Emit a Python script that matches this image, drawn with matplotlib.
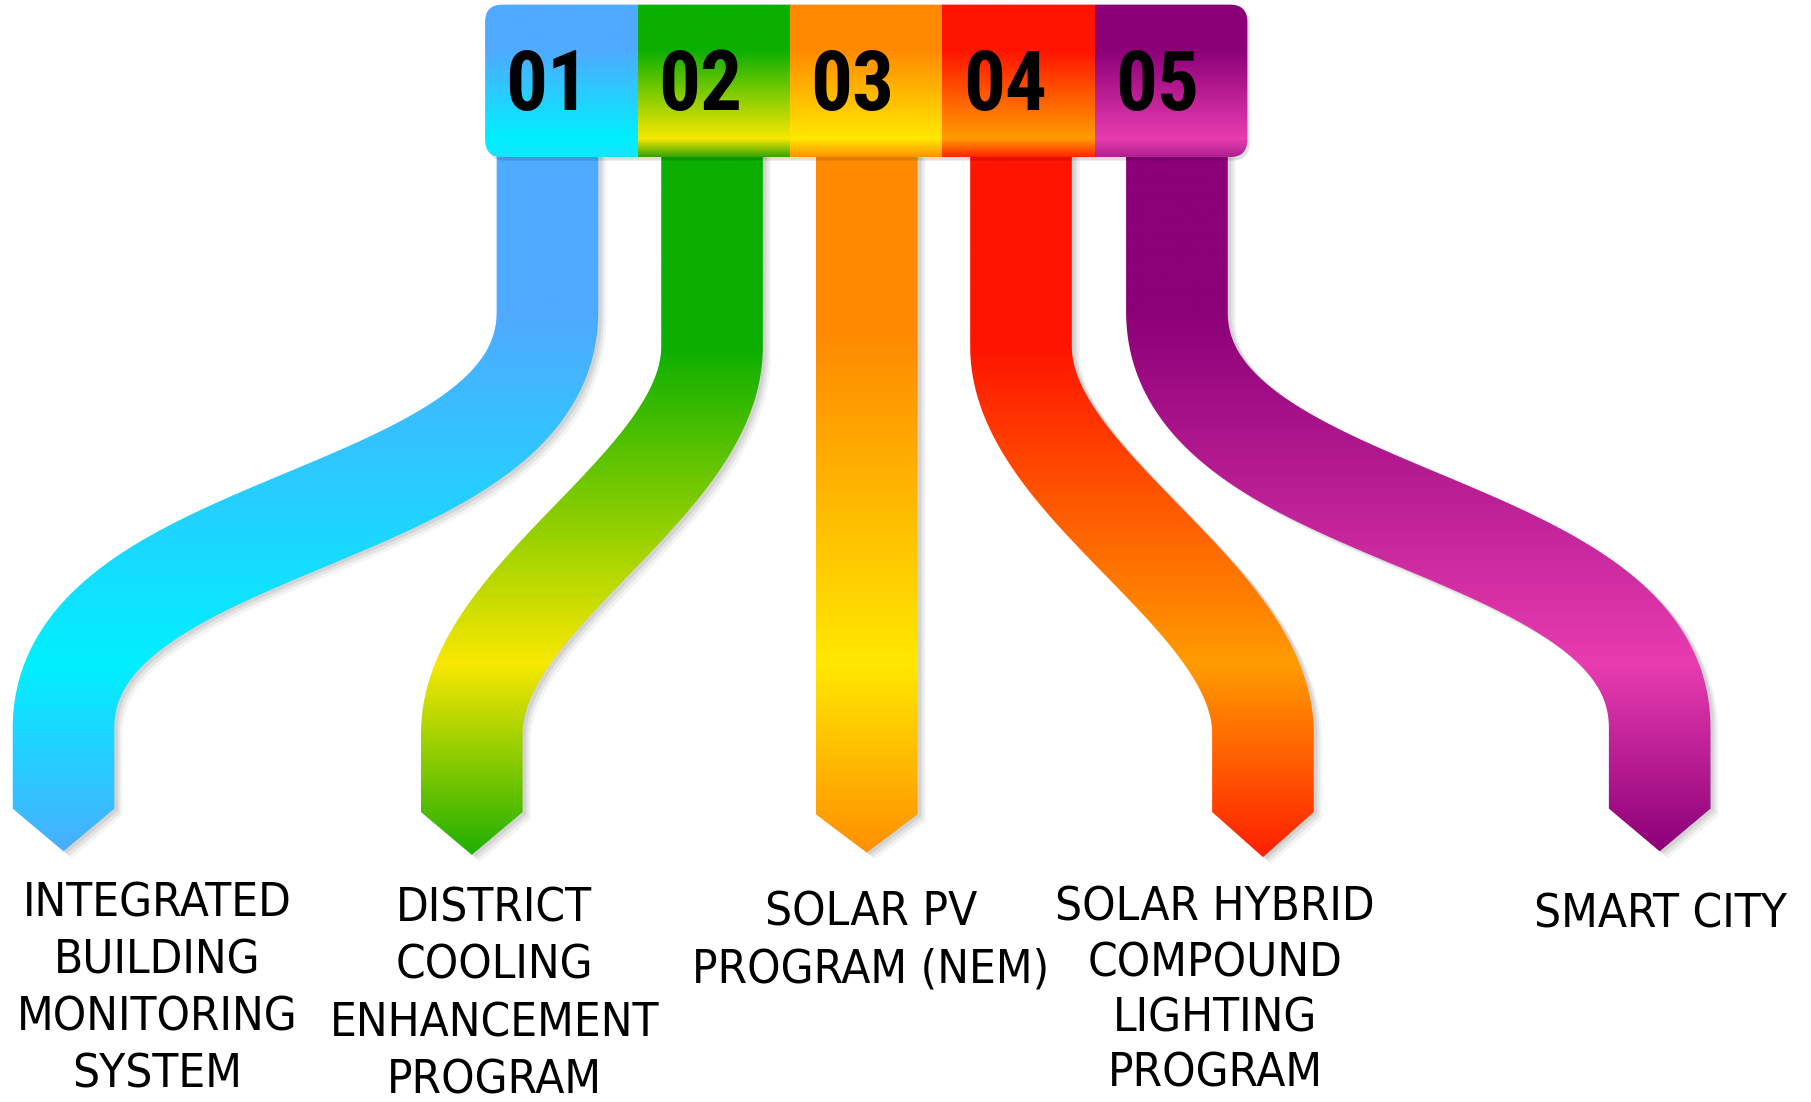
import os
import numpy as np
import matplotlib
matplotlib.use("Agg")
import matplotlib.pyplot as plt
import matplotlib.font_manager as fm
from matplotlib.patches import Polygon, FancyBboxPatch
from matplotlib.colors import to_rgb

# ---- data ----
numbers = ["01", "02", "03", "04", "05"]
labels = [
    "INTEGRATED\nBUILDING\nMONITORING\nSYSTEM",
    "DISTRICT\nCOOLING\nENHANCEMENT\nPROGRAM",
    "SOLAR PV\nPROGRAM (NEM)",
    "SOLAR HYBRID\nCOMPOUND\nLIGHTING\nPROGRAM",
    "SMART CITY",
]
dark_colors = ["#50aaff", "#0aaf00", "#ff8a00", "#ff1400", "#8c0078"]
light_colors = ["#00f0ff", "#f8e800", "#ffe800", "#ff9c00", "#e83cb0"]
band_colors = ["#18e4ff", "#36a400", "#ff9400", "#ff2400", "#b0208f"]
tip_colors = ["#4aaeff", "#20b000", "#ff9000", "#ff2000", "#8c0078"]

# ---- fonts ----
font_files = {}
for f in fm.findSystemFonts() + [e.fname for e in fm.fontManager.ttflist]:
    font_files.setdefault(os.path.basename(f).lower(), f)


def pick_font(cands, **fallback):
    for c in cands:
        if c.lower() in font_files:
            return fm.FontProperties(fname=font_files[c.lower()])
    return fm.FontProperties(**fallback)


num_font = pick_font(["NotoSans-ExtraCondensedBlack.ttf", "NotoSans-CondensedBlack.ttf",
                      "NotoSans-ExtraCondensedExtraBold.ttf", "RobotoCondensed-Black.ttf",
                      "RobotoCondensed-Bold.ttf", "LiberationSansNarrow-Bold.ttf",
                      "DejaVuSansCondensed-Bold.ttf"], family="DejaVu Sans", weight="bold")
lab_font = pick_font(["DejaVuSansCondensed.ttf", "NotoSans-SemiCondensed.ttf",
                      "NotoSans-Condensed.ttf", "RobotoCondensed-Regular.ttf",
                      "LiberationSansNarrow-Regular.ttf"], family="DejaVu Sans")

W, H = 1568, 954          # working coordinates (reference shown size)
PT = 1811 / W * 0.72      # working px -> points

fig = plt.figure(figsize=(18.11, 11.02), dpi=100)
ax = fig.add_axes([0, 0, 1, 1])
ax.axis("off")


def grad_img(stops, y0, y1, n=300):
    ys = np.linspace(y0, y1, n)
    sy = [s[0] for s in stops]
    cols = np.array([to_rgb(s[1]) for s in stops])
    img = np.stack([np.interp(ys, sy, cols[:, k]) for k in range(3)], axis=-1)
    return np.repeat(img[:, None, :], 2, axis=1)


def ribbon_outline(xt, xb, yc0, yc1, yend, tip, k, hw=44, ytop=128):
    if xt == xb:
        pts = np.array([[xt, y] for y in np.linspace(ytop, yend, 20)])
    else:
        top = np.array([[xt, y] for y in np.linspace(ytop, yc0, 12)[:-1]])
        t = np.linspace(0, 1, 120)[:, None]
        P0, P1 = np.array([xt, yc0]), np.array([xt, yc0 + k])
        P2, P3 = np.array([xb, yc1 - k]), np.array([xb, yc1])
        bez = (1 - t) ** 3 * P0 + 3 * (1 - t) ** 2 * t * P1 + 3 * (1 - t) * t ** 2 * P2 + t ** 3 * P3
        bot = np.array([[xb, y] for y in np.linspace(yc1, yend, 8)[1:]])
        pts = np.vstack([top, bez, bot])
    tx = np.gradient(pts[:, 0])
    ty = np.gradient(pts[:, 1])
    ln = np.hypot(tx, ty)
    nrm = np.stack([-ty / ln, tx / ln], axis=1)
    a = pts + hw * nrm
    b = pts - hw * nrm
    return np.vstack([a, [[xb, yend + tip]], b[::-1]])


# ribbon layout: top x, bottom x, curve start, curve end, arrow start, tip depth, handle
ribbons = [
    (474, 55, 270, 630, 700, 37, 185),
    (616.5, 408.5, 300, 635, 703, 37, 120),
    (750.5, 750.5, 0, 0, 705, 33, 0),
    (884, 1093.5, 300, 635, 703, 39, 120),
    (1019, 1437, 270, 630, 700, 37, 185),
]

for i, (xt, xb, yc0, yc1, yend, tip, k) in enumerate(ribbons):
    poly = ribbon_outline(xt, xb, yc0, yc1, yend, tip, k)
    for dx, dy, al in [(7, 6, 0.08), (5, 4, 0.12), (3, 2, 0.16)]:
        ax.add_patch(Polygon(poly + [dx, dy], closed=True, fc="#7a7a7a", ec="none",
                             alpha=al, zorder=1))
    patch = Polygon(poly, closed=True, fc="none", ec="none", zorder=2)
    ax.add_patch(patch)
    ymid = 575
    yflat = yc0 if yc0 else 290
    stops = [(128, dark_colors[i]), (yflat, dark_colors[i]), (ymid, light_colors[i]),
             (yend + tip, tip_colors[i])]
    x0, x1 = poly[:, 0].min() - 2, poly[:, 0].max() + 2
    im = ax.imshow(grad_img(stops, 128, yend + tip + 2), extent=(x0, x1, yend + tip + 2, 128),
                   origin="upper", aspect="auto", interpolation="bilinear", zorder=2)
    im.set_clip_path(patch)

# header bar
hx0, hx1, hy0, hy1 = 420, 1080, 4, 136
seg = (hx1 - hx0) / len(numbers)
hdr_sh = FancyBboxPatch((hx0 + 2, hy0 + 3), hx1 - hx0, hy1 - hy0,
                        boxstyle="round,pad=0,rounding_size=15", fc="#000000",
                        ec="none", alpha=0.12, zorder=3)
ax.add_patch(hdr_sh)
hdr = FancyBboxPatch((hx0, hy0), hx1 - hx0, hy1 - hy0,
                     boxstyle="round,pad=0,rounding_size=15", fc="none", ec="none", zorder=4)
ax.add_patch(hdr)
for i, num in enumerate(numbers):
    sx0 = hx0 + i * seg
    stops = [(hy0, dark_colors[i]), (hy0 + 0.3 * (hy1 - hy0), dark_colors[i]),
             (hy0 + 0.88 * (hy1 - hy0), light_colors[i]), (hy1, band_colors[i])]
    im = ax.imshow(grad_img(stops, hy0, hy1), extent=(sx0, sx0 + seg, hy1, hy0),
                   origin="upper", aspect="auto", interpolation="bilinear", zorder=4)
    im.set_clip_path(hdr)
    ax.text(sx0 + seg / 2 - 12, 95, num, fontproperties=num_font, fontsize=72 * PT,
            color="black", ha="center", va="baseline", zorder=5)

# labels
label_x = [136, 428, 754, 1052, 1438]
label_y = [793, 798, 801, 797, 803]
label_step = [49.5, 49.5, 49.5, 48, 49.5]
for i, lab in enumerate(labels):
    for j, line in enumerate(lab.split("\n")):
        ax.text(label_x[i], label_y[i] + j * label_step[i], line, fontproperties=lab_font,
                fontsize=41 * PT, color="black", ha="center", va="baseline", zorder=5)

ax.set_xlim(0, W)
ax.set_ylim(H, 0)
fig.savefig("out.png", dpi=100, facecolor="white")
